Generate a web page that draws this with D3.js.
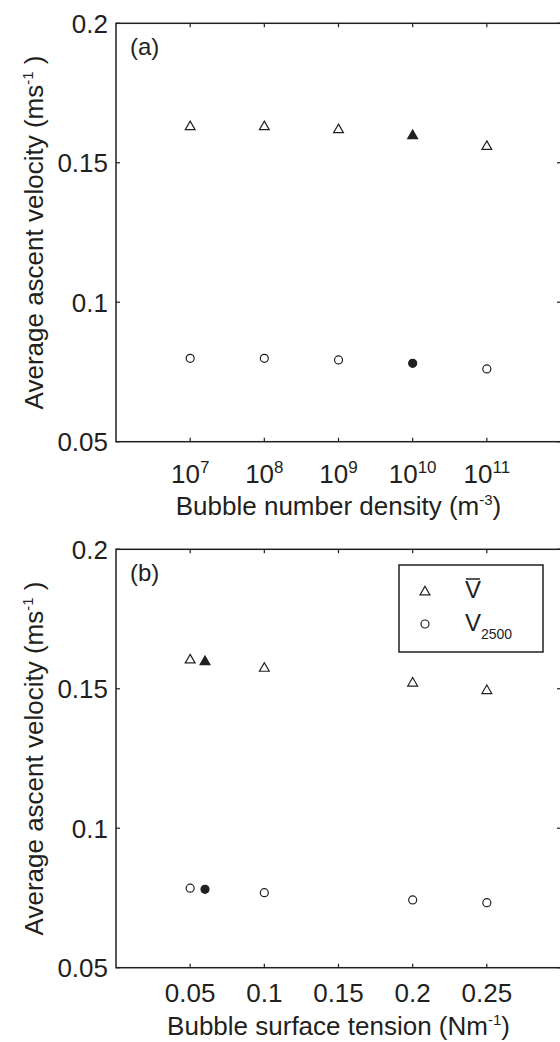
<!DOCTYPE html>
<html>
<head>
<meta charset="utf-8">
<script src="https://cdn.jsdelivr.net/npm/d3@7"></script>
<style>
  body { margin: 0; background: #fff; }
  svg { display: block; font-family: "Liberation Sans", Arial, sans-serif; }
</style>
</head>
<body>
<svg id="chart" width="560" height="1042"></svg>
<script>
// panel (a) - bubble number density
var densities = [1e7, 1e8, 1e9, 1e10, 1e11];
var densityMean = [0.1629, 0.1629, 0.1618, 0.1597, 0.1558];
var densityV2500 = [0.0799, 0.0799, 0.0793, 0.0781, 0.0761];
var densityRef = [false, false, false, true, false];
var densityTicks = [1e7, 1e8, 1e9, 1e10, 1e11];

// panel (b) - bubble surface tension
var tensions = [0.05, 0.06, 0.1, 0.2, 0.25];
var tensionMean = [0.1603, 0.1597, 0.1573, 0.1520, 0.1493];
var tensionV2500 = [0.0785, 0.0781, 0.0769, 0.0743, 0.0733];
var tensionRef = [false, true, false, false, false];
var tensionTicks = [0.05, 0.1, 0.15, 0.2, 0.25];
var tensionTickLabels = ['0.05', '0.1', '0.15', '0.2', '0.25'];

var yTicks = [0.05, 0.1, 0.15, 0.2];
var yTickLabels = ['0.05', '0.1', '0.15', '0.2'];

var ink = '#231f20';
var svg = d3.select('#chart');
var left = 116, right = 561, plotH = 418.4;

// build rows of {x, y, filled}
function rows(xs, ys, refs) {
  return xs.map(function(x, i) { return {x: x, y: ys[i], filled: refs[i]}; });
}

function drawPanel(opt) {
  var g = svg.append('g');
  var top = opt.top, bottom = top + plotH;
  var x = opt.x.range([left, right]);
  var y = d3.scaleLinear().domain([0.05, 0.2]).range([bottom, top]);

  // frame
  g.append('rect')
    .attr('x', left).attr('y', top)
    .attr('width', right - left).attr('height', plotH)
    .attr('fill', 'none').attr('stroke', ink).attr('stroke-width', 1.5);

  // x ticks, bottom and top, pointing inward
  opt.ticks.forEach(function(t) {
    g.append('line').attr('x1', x(t)).attr('x2', x(t))
      .attr('y1', bottom).attr('y2', bottom - 4)
      .attr('stroke', ink).attr('stroke-width', 1.2);
    g.append('line').attr('x1', x(t)).attr('x2', x(t))
      .attr('y1', top).attr('y2', top + 4)
      .attr('stroke', ink).attr('stroke-width', 1.2);
  });
  // y ticks, left and right
  yTicks.forEach(function(t, i) {
    g.append('line').attr('x1', left).attr('x2', left + 4)
      .attr('y1', y(t)).attr('y2', y(t))
      .attr('stroke', ink).attr('stroke-width', 1.2);
    g.append('line').attr('x1', right).attr('x2', right - 4)
      .attr('y1', y(t)).attr('y2', y(t))
      .attr('stroke', ink).attr('stroke-width', 1.2);
    g.append('text')
      .attr('x', left - 8).attr('y', y(t)).attr('dy', '0.36em')
      .attr('text-anchor', 'end')
      .attr('font-size', 26).attr('fill', ink)
      .text(yTickLabels[i]);
  });

  // x tick labels
  opt.ticks.forEach(function(t, i) {
    var txt = g.append('text')
      .attr('x', x(t)).attr('y', bottom + opt.tickLabelOffset)
      .attr('text-anchor', 'middle')
      .attr('font-size', 26).attr('fill', ink);
    if (opt.log) {
      txt.append('tspan').text('10');
      txt.append('tspan').attr('dy', -10).attr('font-size', 17)
        .text(Math.round(Math.log10(t)));
    } else {
      txt.text(opt.tickLabels[i]);
    }
  });

  // x label
  var xl = g.append('text')
    .attr('x', (left + right) / 2).attr('y', bottom + opt.xLabelOffset)
    .attr('text-anchor', 'middle')
    .attr('font-size', 26).attr('fill', ink);
  xl.append('tspan').text(opt.xLabel);
  xl.append('tspan').attr('dy', -10).attr('font-size', 15).text(opt.xSup);
  xl.append('tspan').attr('dy', 10).text(')');

  // y label
  var yl = g.append('text')
    .attr('transform', 'translate(43,' + (top + plotH / 2) + ') rotate(-90)')
    .attr('text-anchor', 'middle')
    .attr('font-size', 26).attr('fill', ink);
  yl.append('tspan').text('Average ascent velocity (ms');
  yl.append('tspan').attr('dy', -10).attr('font-size', 15).text('-1');
  yl.append('tspan').attr('dy', 10).text(' )');

  // panel letter
  g.append('text')
    .attr('x', 130).attr('y', top + 32)
    .attr('font-size', 24).attr('fill', ink)
    .text(opt.letter);

  // markers
  var tri = d3.symbol().type(d3.symbolTriangle).size(42);
  g.selectAll('path.mean')
    .data(rows(opt.xs, opt.means, opt.refs))
    .join('path')
    .attr('class', 'mean')
    .attr('d', tri)
    .attr('transform', function(d) { return 'translate(' + x(d.x) + ',' + y(d.y) + ')'; })
    .attr('fill', function(d) { return d.filled ? ink : 'none'; })
    .attr('stroke', ink).attr('stroke-width', 1.2);

  g.selectAll('circle.v2500')
    .data(rows(opt.xs, opt.v2500, opt.refs))
    .join('circle')
    .attr('class', 'v2500')
    .attr('cx', function(d) { return x(d.x); })
    .attr('cy', function(d) { return y(d.y); })
    .attr('r', 4)
    .attr('fill', function(d) { return d.filled ? ink : 'none'; })
    .attr('stroke', ink).attr('stroke-width', 1.2);

  return g;
}

drawPanel({
  top: 23.3,
  x: d3.scaleLog().domain([1e6, 1e12]),
  log: true,
  ticks: densityTicks,
  tickLabelOffset: 41,
  xLabelOffset: 73,
  xLabel: 'Bubble number density (m',
  xSup: '-3',
  letter: '(a)',
  xs: densities, means: densityMean, v2500: densityV2500, refs: densityRef
});

var gb = drawPanel({
  top: 549.3,
  x: d3.scaleLinear().domain([0, 0.3]),
  log: false,
  ticks: tensionTicks,
  tickLabels: tensionTickLabels,
  tickLabelOffset: 34,
  xLabelOffset: 67,
  xLabel: 'Bubble surface tension (Nm',
  xSup: '-1',
  letter: '(b)',
  xs: tensions, means: tensionMean, v2500: tensionV2500, refs: tensionRef
});

// legend in panel (b)
var lg = gb.append('g').attr('transform', 'translate(399,565)');
lg.append('rect').attr('width', 144).attr('height', 87)
  .attr('fill', '#fff').attr('stroke', ink).attr('stroke-width', 1.5);
lg.append('path').attr('d', d3.symbol().type(d3.symbolTriangle).size(42))
  .attr('transform', 'translate(26,27)')
  .attr('fill', 'none').attr('stroke', ink).attr('stroke-width', 1.2);
lg.append('circle').attr('cx', 26).attr('cy', 59).attr('r', 4)
  .attr('fill', 'none').attr('stroke', ink).attr('stroke-width', 1.2);
var vbar = lg.append('text').attr('x', 66).attr('y', 33)
  .attr('font-size', 24).attr('fill', ink).text('V');
var bb = vbar.node().getBBox();
lg.append('line')
  .attr('x1', bb.x + 1).attr('x2', bb.x + bb.width - 1)
  .attr('y1', 14).attr('y2', 14)
  .attr('stroke', ink).attr('stroke-width', 1.5);
var v2 = lg.append('text').attr('x', 66).attr('y', 66)
  .attr('font-size', 24).attr('fill', ink);
v2.append('tspan').text('V');
v2.append('tspan').attr('dy', 8).attr('font-size', 14).text('2500');
</script>
</body>
</html>
